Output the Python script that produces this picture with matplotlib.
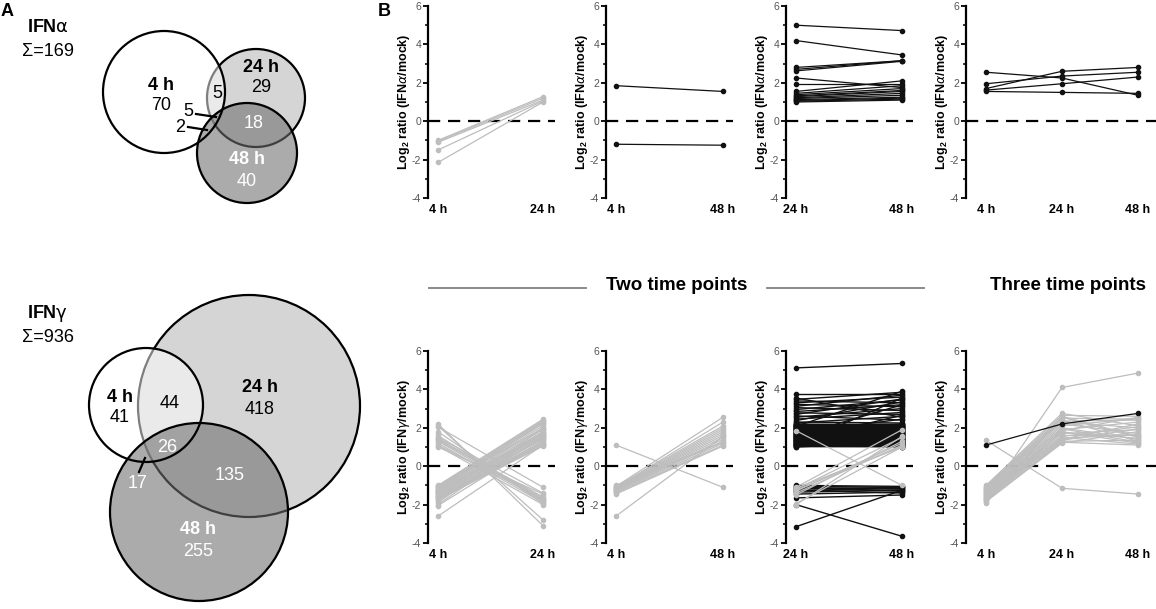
import numpy as np
import matplotlib
matplotlib.use("Agg")
import matplotlib.pyplot as plt
from matplotlib.patches import Circle

plt.rcParams['font.family'] = ['Liberation Sans', 'DejaVu Sans']
plt.rcParams['mathtext.fontset'] = 'custom'
plt.rcParams['mathtext.rm'] = 'DejaVu Sans'
plt.rcParams['mathtext.bf'] = 'Liberation Sans:bold'
plt.rcParams['mathtext.it'] = 'DejaVu Sans:italic'

# ---------------- data ----------------
time_labels_two_4_24 = ["4 h", "24 h"]
time_labels_two_4_48 = ["4 h", "48 h"]
time_labels_two_24_48 = ["24 h", "48 h"]
time_labels_three = ["4 h", "24 h", "48 h"]

venn_labels = ["4 h", "24 h", "48 h"]
venn_a_counts = {"4": 70, "24": 29, "48": 40, "4_24": 5, "24_48": 18, "4_24_48": 5, "4_48": 2}
venn_a_total = 169
venn_g_counts = {"4": 41, "24": 418, "48": 255, "4_24": 44, "24_48": 135, "4_24_48": 26, "4_48": 17}
venn_g_total = 936

# IFN-alpha
ifna_4_24_4h = [-1.00, -1.05, -1.10, -1.50, -2.15]
ifna_4_24_24h = [1.28, 1.20, 1.10, 1.05, 1.00]

ifna_4_48_4h = [1.85, -1.20]
ifna_4_48_48h = [1.55, -1.25]

ifna_24_48_24h = [5.00, 4.20, 2.80, 2.70, 2.62, 2.25, 1.95, 1.55, 1.45, 1.38,
                  1.32, 1.28, 1.22, 1.18, 1.12, 1.08, 1.04, 1.00]
ifna_24_48_48h = [4.72, 3.45, 3.15, 3.15, 3.12, 1.75, 1.95, 2.10, 1.85, 1.70,
                  1.60, 1.55, 1.45, 1.35, 1.25, 1.20, 1.15, 1.10]

ifna_all_4h = [2.55, 1.95, 1.70, 1.62, 1.55]
ifna_all_24h = [2.25, 2.35, 2.60, 1.95, 1.50]
ifna_all_48h = [1.35, 2.55, 2.80, 2.30, 1.45]

# IFN-gamma
ifng_4_24_4h = [-1.00, -1.05, -1.10, -1.15, -1.20, -1.25, -1.30, -1.35, -1.40, -1.45,
                -1.50, -1.55, -1.60, -1.65, -1.70, -1.75, -1.80, -1.90, -2.00, -2.05,
                -2.60, -1.12, -1.28, -1.38, -1.48, -1.58, -1.68, -1.02, -1.22, -1.32,
                2.20, 2.10, 2.05, 1.80, 1.60, 1.50, 1.45, 1.40, 1.30, 1.20,
                1.10, 1.05, 1.00, 1.35]
ifng_4_24_24h = [2.45, 2.40, 2.30, 2.20, 2.10, 2.00, 1.90, 1.80, 1.70, 1.60,
                 1.50, 1.40, 1.30, 1.20, 1.10, 1.05, 1.50, 2.00, 1.80, 1.35,
                 1.10, 2.35, 1.75, 1.65, 1.45, 1.25, 1.15, 1.95, 2.25, 1.55,
                 -3.10, -2.80, -1.10, -1.95, -1.85, -1.40, -1.75, -1.60, -1.80, -1.90,
                 -1.70, -2.00, -1.45, -1.65]

ifng_4_48_4h = [-1.05, -1.10, -1.12, -1.15, -1.18, -1.20, -1.22, -1.25, -1.28, -1.30,
                -1.35, -1.40, -1.45, -1.08, -2.60, -1.00, 1.10]
ifng_4_48_48h = [2.55, 2.30, 2.00, 1.90, 1.80, 1.70, 1.60, 1.50, 1.40, 1.30,
                 1.20, 1.10, 1.05, 2.10, 1.55, 1.25, -1.10]

ifng_24_48_black_24h = [5.12, 3.78, 3.55, 3.48, 3.40, 3.30, 3.22, 3.12, 3.05, 2.95,
                        2.85, 2.78, 2.70, 2.62, 2.55, 2.45, 2.38, 2.30, 2.25,
                        2.20, 2.17, 2.14, 2.11, 2.08, 2.05, 2.02, 1.99, 1.96, 1.93,
                        1.90, 1.87, 1.84, 1.81, 1.78, 1.75, 1.72, 1.69, 1.66, 1.63,
                        1.60, 1.57, 1.54, 1.51, 1.48, 1.45, 1.42, 1.39, 1.36, 1.33,
                        1.30, 1.27, 1.24, 1.21, 1.18, 1.15, 1.12, 1.09, 1.06, 1.03,
                        1.00,
                        2.19, 2.16, 2.13, 2.10, 2.07, 2.04, 2.01, 1.98, 1.95, 1.92,
                        1.89, 1.86, 1.83, 1.80, 1.77, 1.74, 1.71, 1.68, 1.65, 1.62,
                        1.59, 1.56, 1.53, 1.50, 1.47, 1.44, 1.41, 1.38, 1.35, 1.32,
                        1.29, 1.26, 1.23, 1.20, 1.17, 1.14, 1.11, 1.08, 1.05, 1.02,
                        -1.00, -1.05, -1.10, -1.15, -1.20, -1.25, -1.30, -1.35, -1.45, -1.65,
                        -2.00, -3.15]
ifng_24_48_black_48h = [5.35, 3.78, 2.55, 3.85, 3.30, 3.60, 3.10, 3.70, 2.90, 3.45,
                        3.20, 2.70, 3.50, 2.40, 3.00, 2.80, 3.35, 2.25, 2.60,
                        1.95, 1.20, 2.15, 1.50, 3.90, 1.05, 1.75, 2.05, 1.35, 1.90,
                        1.10, 2.20, 1.60, 1.00, 1.85, 2.45, 1.25, 1.70, 2.10, 1.40,
                        1.15, 3.20, 1.55, 2.00, 1.30, 1.80, 1.05, 1.65, 2.65, 1.45,
                        1.10, 1.95, 1.20, 2.10, 1.00, 1.50, 3.55, 1.35, 1.75, 1.15,
                        1.25,
                        2.18, 2.12, 2.06, 2.00, 1.94, 1.88, 1.82, 1.76, 1.70, 1.64,
                        1.58, 1.52, 1.46, 1.40, 1.34, 1.28, 1.22, 1.16, 1.10, 1.04,
                        2.15, 2.09, 2.03, 1.97, 1.91, 1.85, 1.79, 1.73, 1.67, 1.61,
                        1.55, 1.49, 1.43, 1.37, 1.31, 1.25, 1.19, 1.13, 1.07, 1.01,
                        -1.05, -1.10, -1.20, -1.30, -1.10, -1.40, -1.15, -1.25, -1.35, -1.50,
                        -3.65, -1.25]
ifng_24_48_grey_24h = [-1.10, -1.20, -1.30, -1.40, -1.25, -1.50, -1.95, -2.00, -1.15, 1.85]
ifng_24_48_grey_48h = [1.90, 1.50, 1.20, 1.10, 1.05, 1.30, 1.00, 1.55, 1.00, -1.00]

ifng_all_grey_4h = [-1.00, -1.05, -1.10, -1.15, -1.20, -1.25, -1.30, -1.35, -1.40, -1.45,
                    -1.50, -1.55, -1.60, -1.65, -1.70, -1.75, -1.80, -1.85, -1.90, -1.12,
                    -1.22, -1.32, -1.42, -1.52, -1.62, -1.72, -1.70, 1.35]
ifng_all_grey_24h = [2.75, 2.65, 2.55, 2.50, 2.40, 2.30, 2.20, 2.10, 2.00, 1.90,
                     1.80, 1.70, 1.60, 1.50, 1.40, 1.30, 1.25, 1.20, 2.60, 2.35,
                     1.95, 1.75, 1.55, 1.45, 1.35, 1.85, 4.10, -1.15]
ifng_all_grey_48h = [2.10, 2.60, 1.50, 2.45, 1.30, 2.00, 1.70, 2.50, 1.40, 2.30,
                     1.20, 1.90, 1.60, 1.15, 2.20, 1.35, 1.10, 1.80, 1.55, 2.40,
                     1.25, 1.45, 2.05, 1.65, 1.95, 2.55, 4.85, -1.45]
ifng_all_black_4h = [1.10]
ifng_all_black_24h = [2.20]
ifng_all_black_48h = [2.75]

# ---------------- figure ----------------
W, H = 1156, 609
fig = plt.figure(figsize=(W / 100, H / 100), dpi=100)
fig.patch.set_facecolor('white')

bg = fig.add_axes([0, 0, 1, 1], zorder=0)
bg.set_xlim(0, W)
bg.set_ylim(H, 0)
bg.axis('off')

GREY = '#bdbdbd'
BLACK = '#111111'


def venn(c4, r4, c24, r24, c48, r48):
    bg.add_patch(Circle(c24, r24, facecolor='#d5d5d5', edgecolor='black', lw=1.6, zorder=1))
    bg.add_patch(Circle(c4, r4, facecolor='white', edgecolor='none', alpha=0.5, zorder=2))
    bg.add_patch(Circle(c48, r48, facecolor='#6e6e6e', edgecolor='none', alpha=0.58, zorder=3))
    bg.add_patch(Circle(c48, r48, fill=False, edgecolor='black', lw=1.6, zorder=4))
    bg.add_patch(Circle(c4, r4, fill=False, edgecolor='black', lw=1.6, zorder=5))


def vt(x, y, s, color='black', bold=False, size=13):
    bg.text(x, y, s, ha='center', va='center', fontsize=size, color=color,
            fontweight='bold' if bold else 'normal', zorder=10)


# Venn IFN-alpha
venn((164, 92), 61, (256, 98), 49, (247, 153), 50)
vt(7, 12, "A", bold=True, size=13)
vt(48, 28, "IFN$\\mathrm{\\alpha}$", bold=True)
vt(48, 52, "\u03a3=%d" % venn_a_total)
vt(161, 85, venn_labels[0], bold=True)
vt(161, 106, str(venn_a_counts["4"]))
vt(261, 67, venn_labels[1], bold=True)
vt(261, 88, str(venn_a_counts["24"]))
vt(217, 93, str(venn_a_counts["4_24"]))
vt(254, 124, str(venn_a_counts["24_48"]), color='white')
vt(247, 160, venn_labels[2], color='white', bold=True)
vt(247, 181, str(venn_a_counts["48"]), color='white')
vt(188, 111, str(venn_a_counts["4_24_48"]))
vt(180, 128, str(venn_a_counts["4_48"]))
bg.plot([196, 216], [114, 117], color='black', lw=1.6, zorder=11)
bg.plot([188, 207], [127, 130], color='black', lw=1.6, zorder=11)

# Venn IFN-gamma
venn((146, 405), 57, (249, 406), 111, (199, 512), 89)
vt(48, 313, "IFN$\\mathrm{\\gamma}$", bold=True)
vt(48, 337, "\u03a3=%d" % venn_g_total)
vt(120, 397, venn_labels[0], bold=True)
vt(120, 418, str(venn_g_counts["4"]))
vt(170, 404, str(venn_g_counts["4_24"]))
vt(260, 388, venn_labels[1], bold=True)
vt(260, 409, str(venn_g_counts["24"]))
vt(167, 448, str(venn_g_counts["4_24_48"]), color='white')
vt(138, 484, str(venn_g_counts["4_48"]), color='white')
vt(230, 475, str(venn_g_counts["24_48"]), color='white')
vt(198, 530, venn_labels[2], color='white', bold=True)
vt(198, 552, str(venn_g_counts["48"]), color='white')
bg.plot([139, 145], [472, 458], color='black', lw=1.6, zorder=11)

# Panel B
vt(384, 12, "B", bold=True, size=13)
bg.plot([429, 586], [288, 288], color='#808080', lw=1.3)
bg.plot([767, 924], [288, 288], color='#808080', lw=1.3)
vt(677, 286, "Two time points", bold=True, size=13.5)
vt(1068, 286, "Three time points", bold=True, size=13.5)


def px_axes(x0, x1, y0, y1):
    return fig.add_axes([x0 / W, 1 - y1 / H, (x1 - x0) / W, (y1 - y0) / H], zorder=5)


def panel(spine, p0, unit, right, top, bottom, xlabels, ylabel):
    ax = px_axes(spine, right, top, bottom)
    ax.patch.set_alpha(0)
    n = len(xlabels)
    ax.set_xlim(-(p0 - spine) / unit, (right - p0) / unit)
    ax.set_ylim(-4, 6)
    for s in ['top', 'right', 'bottom']:
        ax.spines[s].set_visible(False)
    ax.spines['left'].set_linewidth(1.6)
    ax.set_yticks([-4, -2, 0, 2, 4, 6])
    ax.set_yticklabels(['-4', '-2', '0', '2', '4', '6'])
    ax.set_yticks([-3, -1, 1, 3, 5], minor=True)
    ax.tick_params(axis='y', which='major', length=3.5, width=1.3, labelsize=7.5,
                   labelcolor='#555555', pad=1.5, direction='out')
    ax.tick_params(axis='y', which='minor', length=2.2, width=1.1, direction='out')
    ax.set_xticks(range(n))
    ax.set_xticklabels(xlabels, fontweight='bold', fontsize=9)
    ax.tick_params(axis='x', length=0, pad=4)
    ax.axhline(0, color='black', lw=1.6, ls=(0, (5.5, 3.5)), zorder=1)
    w = right - spine
    ax.text(-23.5 / w, 0.5, ylabel, transform=ax.transAxes, rotation=90,
            ha='center', va='center', fontsize=9, fontweight='bold')
    return ax


def lines(ax, cols, color, lw=0.9):
    x = np.arange(len(cols))
    y = np.array(cols)
    ax.plot(x, y, color=color, lw=lw, marker='o', ms=3, mec=color, mfc=color,
            zorder=3, clip_on=False)


ya = 'Log$_\\mathbf{2}$ ratio (IFN$\\alpha$/mock)'
yg = 'Log$_\\mathbf{2}$ ratio (IFN$\\gamma$/mock)'

T0, T1 = 6, 198
B0, B1 = 351, 543

ax = panel(428, 438, 105, 555, T0, T1, time_labels_two_4_24, ya)
lines(ax, [ifna_4_24_4h, ifna_4_24_24h], GREY)
ax = panel(606, 616, 107, 733, T0, T1, time_labels_two_4_48, ya)
lines(ax, [ifna_4_48_4h, ifna_4_48_48h], BLACK)
ax = panel(786, 796, 106, 913, T0, T1, time_labels_two_24_48, ya)
lines(ax, [ifna_24_48_24h, ifna_24_48_48h], BLACK)
ax = panel(966, 986, 76, 1156, T0, T1, time_labels_three, ya)
lines(ax, [ifna_all_4h, ifna_all_24h, ifna_all_48h], BLACK)

ax = panel(428, 438, 105, 555, B0, B1, time_labels_two_4_24, yg)
lines(ax, [ifng_4_24_4h, ifng_4_24_24h], GREY)
ax = panel(606, 616, 107, 733, B0, B1, time_labels_two_4_48, yg)
lines(ax, [ifng_4_48_4h, ifng_4_48_48h], GREY)
ax = panel(786, 796, 106, 913, B0, B1, time_labels_two_24_48, yg)
lines(ax, [ifng_24_48_black_24h, ifng_24_48_black_48h], BLACK, lw=1.0)
lines(ax, [ifng_24_48_grey_24h, ifng_24_48_grey_48h], GREY)
ax = panel(966, 986, 76, 1156, B0, B1, time_labels_three, yg)
lines(ax, [ifng_all_grey_4h, ifng_all_grey_24h, ifng_all_grey_48h], GREY)
lines(ax, [ifng_all_black_4h, ifng_all_black_24h, ifng_all_black_48h], BLACK)

fig.savefig('out.png', dpi=100, facecolor='white')
